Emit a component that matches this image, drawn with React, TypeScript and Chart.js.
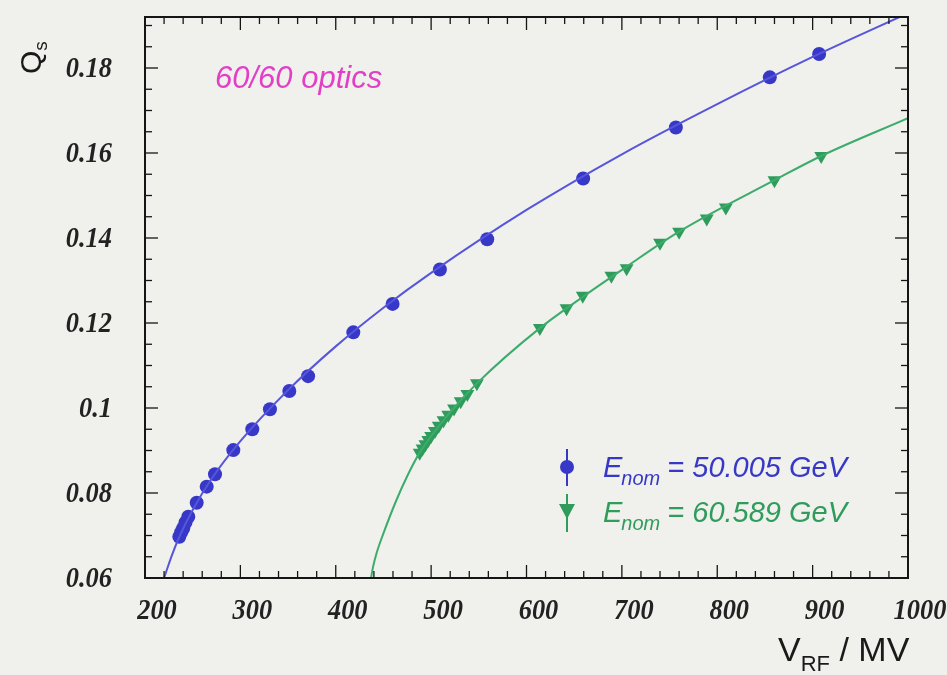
import React, { useEffect, useRef } from "react";
import { Chart, registerables } from "chart.js";

Chart.register(...registerables);

// ---- data ----
const blueV = [236.0, 238.0, 240.1, 242.5, 245.4, 254.2, 264.7, 273.4, 292.6, 312.5, 331.0, 351.3, 371.0, 418.4, 459.6, 509.2, 558.8, 659.4, 756.6, 855.1, 906.8];
const blueQ = [0.0697, 0.0708, 0.0717, 0.0731, 0.0744, 0.0777, 0.0815, 0.0844, 0.0901, 0.0950, 0.0997, 0.1040, 0.1075, 0.1178, 0.1245, 0.1326, 0.1397, 0.1540, 0.1660, 0.1778, 0.1833];

const greenV = [488, 491, 494, 497, 500, 504, 508, 513, 518, 524, 531, 538, 548, 614, 642, 659, 689, 705, 740, 760, 789, 809, 860, 909];
const greenQ = [0.0895, 0.0905, 0.0915, 0.0925, 0.0934, 0.0946, 0.0958, 0.0971, 0.0984, 0.0999, 0.1016, 0.1033, 0.1058, 0.1188, 0.1235, 0.1264, 0.1311, 0.1329, 0.1389, 0.1415, 0.1446, 0.1472, 0.1536, 0.1593];

// fitted curves as traced on the picture
const blueFitV = [220, 223, 228, 236, 250, 270, 300, 350, 400, 450, 500, 600, 700, 800, 900, 1000];
const blueFitQ = [0.0600, 0.0620, 0.0652, 0.0697, 0.0760, 0.0834, 0.0922, 0.1042, 0.1145, 0.1236, 0.1318, 0.1466, 0.1597, 0.1715, 0.1826, 0.1929];

const greenFitV = [437, 439, 443, 450, 463, 475, 488, 520, 548, 614, 660, 700, 760, 860, 909, 1000];
const greenFitQ = [0.0600, 0.0625, 0.0660, 0.0705, 0.0780, 0.0840, 0.0895, 0.0990, 0.1058, 0.1188, 0.1263, 0.1325, 0.1415, 0.1536, 0.1593, 0.1682];

const xTicks = [200, 300, 400, 500, 600, 700, 800, 900, 1000];
const xTickLabels = ["200", "300", "400", "500", "600", "700", "800", "900", "1000"];
const yTicks = [0.06, 0.08, 0.1, 0.12, 0.14, 0.16, 0.18];
const yTickLabels = ["0.06", "0.08", "0.1", "0.12", "0.14", "0.16", "0.18"];

const legendLabels = ["50.005 GeV", "60.589 GeV"];
const annotationText = "60/60 optics";

const X_MIN = 200, X_MAX = 1000, Y_MIN = 0.06, Y_MAX = 0.192;

const BLUE = "#3838c8";
const BLUE_LINE = "#5656dc";
const GREEN = "#2f9c5c";
const GREEN_LINE = "#3cac6c";

const toPts = (xs: number[], ys: number[]) => xs.map((x, i) => ({ x, y: ys[i] }));

const framePlugin = {
  id: "rootFrame",
  beforeDraw(chart: any) {
    const { ctx, width, height } = chart;
    ctx.save();
    ctx.fillStyle = "#f0f0ec";
    ctx.fillRect(0, 0, width, height);
    ctx.restore();
  },
  afterDraw(chart: any) {
    const { ctx, chartArea: a, scales } = chart;
    const xs = scales.x, ys = scales.y;
    ctx.save();
    const seg = (x1: number, y1: number, x2: number, y2: number) => {
      ctx.beginPath(); ctx.moveTo(x1, y1); ctx.lineTo(x2, y2); ctx.stroke();
    };
    ctx.strokeStyle = "#151515";
    // ticks
    ctx.lineWidth = 1.3;
    for (let i = 0; i <= 40; i++) {
      const v = X_MIN + i * 20;
      const px = xs.getPixelForValue(v);
      const len = i % 5 === 0 ? 13 : 7;
      seg(px, a.bottom, px, a.bottom - len);
      seg(px, a.top, px, a.top + len);
    }
    for (let i = 0; ; i++) {
      const v = Y_MIN + i * 0.005;
      if (v > Y_MAX + 1e-9) break;
      const py = ys.getPixelForValue(v);
      const len = i % 4 === 0 ? 13 : 7;
      seg(a.left, py, a.left + len, py);
      seg(a.right, py, a.right - len, py);
    }
    ctx.lineWidth = 2;
    ctx.strokeRect(a.left, a.top, a.right - a.left, a.bottom - a.top);

    // tick labels (tall, slightly condensed bold italic serif)
    ctx.fillStyle = "#222";
    ctx.font = "italic bold 30px 'Liberation Serif'";
    const sx = 0.88;
    ctx.textAlign = "right";
    ctx.textBaseline = "middle";
    yTicks.forEach((v, i) => {
      ctx.save();
      ctx.translate(112, ys.getPixelForValue(v) + 1);
      ctx.scale(sx, 1);
      ctx.fillText(yTickLabels[i], 0, 0);
      ctx.restore();
    });
    ctx.textAlign = "center";
    ctx.textBaseline = "top";
    xTicks.forEach((v, i) => {
      ctx.save();
      ctx.translate(xs.getPixelForValue(v) + 12, 596);
      ctx.scale(sx, 1);
      ctx.fillText(xTickLabels[i], 0, 0);
      ctx.restore();
    });

    // x title
    ctx.textAlign = "left";
    ctx.textBaseline = "alphabetic";
    ctx.fillStyle = "#1a1a1a";
    let x = 778;
    ctx.font = "34px 'Liberation Sans'";
    ctx.fillText("V", x, 661);
    x += ctx.measureText("V").width;
    ctx.font = "22px 'Liberation Sans'";
    ctx.fillText("RF", x, 671);
    x += ctx.measureText("RF").width;
    ctx.font = "34px 'Liberation Sans'";
    ctx.fillText(" / MV", x, 661);

    // y title (rotated)
    ctx.save();
    ctx.translate(41, 74);
    ctx.rotate(-Math.PI / 2);
    ctx.font = "30px 'Liberation Sans'";
    ctx.fillText("Q", 0, 0);
    const qw = ctx.measureText("Q").width;
    ctx.font = "19px 'Liberation Sans'";
    ctx.fillText("s", qw, 6);
    ctx.restore();

    // annotation
    ctx.fillStyle = "#e23fc6";
    ctx.font = "italic 31px 'Liberation Sans'";
    ctx.fillText(annotationText, 215, 88);

    // legend
    const drawLegendText = (label: string, baseY: number, color: string) => {
      ctx.fillStyle = color;
      let lx = 603;
      ctx.font = "italic 29px 'Liberation Sans'";
      ctx.fillText("E", lx, baseY);
      lx += ctx.measureText("E").width;
      ctx.font = "italic 20px 'Liberation Sans'";
      ctx.fillText("nom", lx - 1, baseY + 8);
      lx += ctx.measureText("nom").width - 2;
      ctx.font = "italic 29px 'Liberation Sans'";
      ctx.fillText(" = " + label, lx, baseY);
    };
    // blue marker
    ctx.strokeStyle = BLUE; ctx.fillStyle = BLUE; ctx.lineWidth = 2;
    seg(567, 449, 567, 486);
    ctx.beginPath(); ctx.arc(567, 467, 7, 0, Math.PI * 2); ctx.fill();
    drawLegendText(legendLabels[0], 477, BLUE);
    // green marker
    ctx.strokeStyle = GREEN; ctx.fillStyle = GREEN;
    seg(567, 494, 567, 532);
    ctx.beginPath();
    ctx.moveTo(559, 504); ctx.lineTo(575, 504); ctx.lineTo(567, 519); ctx.closePath(); ctx.fill();
    drawLegendText(legendLabels[1], 522, GREEN);

    ctx.restore();
  },
};

export default function App() {
  const ref = useRef<HTMLCanvasElement | null>(null);
  useEffect(() => {
    if (!ref.current) return;
    const chart = new Chart(ref.current, {
      type: "scatter",
      data: {
        datasets: [
          {
            data: toPts(blueFitV, blueFitQ),
            showLine: true,
            borderColor: BLUE_LINE,
            borderWidth: 2,
            pointRadius: 0,
            cubicInterpolationMode: "monotone",
          } as any,
          {
            data: toPts(greenFitV, greenFitQ),
            showLine: true,
            borderColor: GREEN_LINE,
            borderWidth: 2,
            pointRadius: 0,
            cubicInterpolationMode: "monotone",
          } as any,
          {
            data: toPts(blueV, blueQ),
            pointStyle: "circle",
            pointRadius: 7,
            backgroundColor: BLUE,
            borderColor: BLUE,
            borderWidth: 0,
          },
          {
            data: toPts(greenV, greenQ),
            pointStyle: "triangle",
            rotation: 180,
            pointRadius: 8,
            backgroundColor: GREEN,
            borderColor: GREEN,
            borderWidth: 0,
          } as any,
        ],
      },
      options: {
        responsive: false,
        animation: false,
        devicePixelRatio: 1,
        layout: { padding: { left: 145, top: 17, right: 39, bottom: 97 } },
        plugins: { legend: { display: false }, tooltip: { enabled: false } },
        scales: {
          x: { type: "linear", min: X_MIN, max: X_MAX, display: false },
          y: { type: "linear", min: Y_MIN, max: Y_MAX, display: false },
        },
      },
      plugins: [framePlugin],
    });
    return () => chart.destroy();
  }, []);
  return (
    <div style={{ position: "fixed", left: 0, top: 0, width: 947, height: 675 }}>
      <canvas ref={ref} width={947} height={675} />
    </div>
  );
}
